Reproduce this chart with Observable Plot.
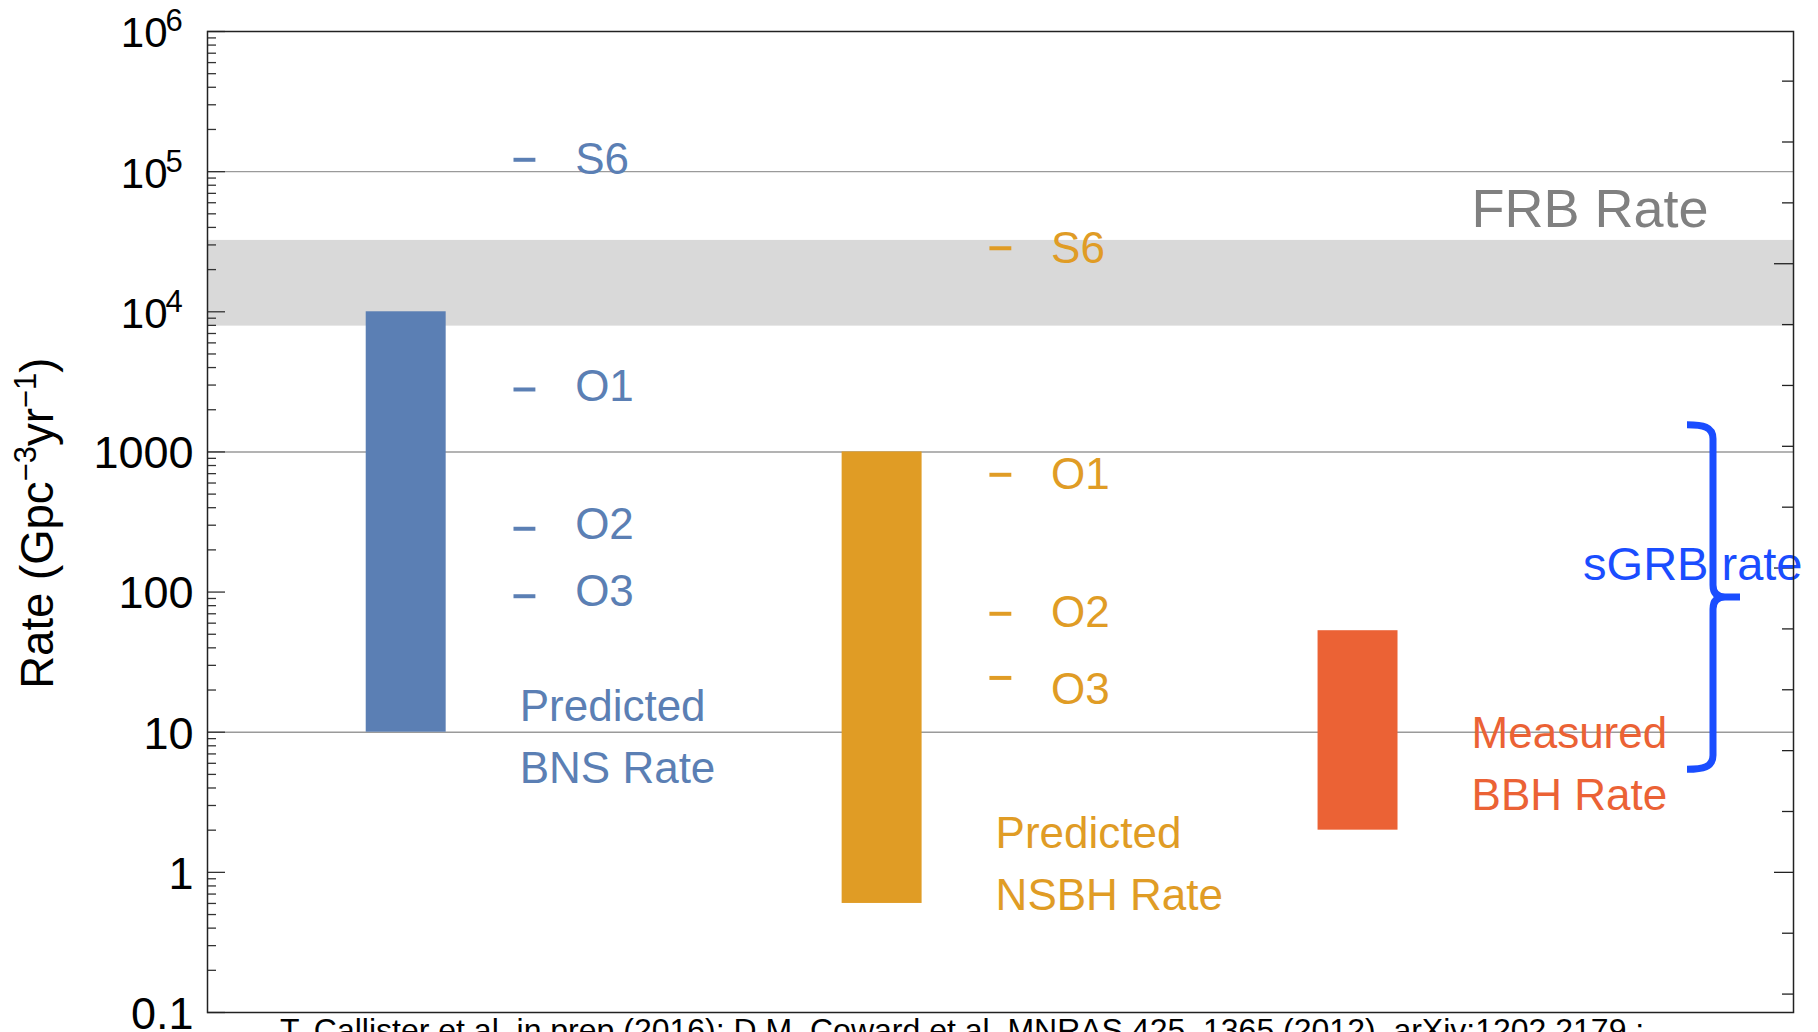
<!DOCTYPE html>
<html><head><meta charset="utf-8">
<script src="https://cdn.jsdelivr.net/npm/d3@7"></script>
<script src="https://cdn.jsdelivr.net/npm/@observablehq/plot@0.6"></script>
<style>
html,body{margin:0;padding:0;background:#fff;overflow:hidden;}
#chart{position:relative;width:1818px;height:1032px;}
#caption{position:absolute;left:280px;top:1014px;font-family:Arial,"Liberation Sans",sans-serif;font-size:32px;line-height:32px;color:#000;white-space:nowrap;}
</style></head><body>
<div id="chart"></div>
<script>
// ---------------- data ----------------
const categories = ["BNS", "NSBH", "BBH"];
const categoryPos = [1, 2, 3];
const rateLow = [10, 0.6, 2];
const rateHigh = [1e4, 1000, 53];
const categoryLabels = ["Predicted\nBNS Rate", "Predicted\nNSBH Rate", "Measured\nBBH Rate"];
const labelRate = [24.9, 3.1, 15.8];          // rate at which each label block is anchored
const runs = ["S6", "O1", "O2", "O3"];
const bnsRunRate = [1.215e5, 2790, 283, 93.4];
const nsbhRunRate = [2.84e4, 687, 70, 24.4];
const bnsRunLabelRate = [1.207e5, 2910, 302, 100];
const nsbhRunLabelRate = [2.81e4, 682, 71.3, 20.1];
const frbRateBand = [7900, 32300];
const sgrbRateRange = [5.4, 1550];
const gridRates = [10, 1000, 1e5];
const decadeTicks = [0.1, 1, 10, 100, 1000, 1e4, 1e5, 1e6];
const plainTickLabels = ["0.1", "1", "10", "100", "1000"];
const powerTickExponents = ["4", "5", "6"];
const naturalLogTicks = d3.range(-2, 14);     // right frame ticks at e^n
const yTitleRate = 310;                       // rate at which the rotated y title is centred
const citation = "T. Callister et al. in prep (2016); D.M. Coward et al. MNRAS 425, 1365 (2012), arXiv:1202.2179 ;";

// ---------------- styles ----------------
const colors = ["#5B7FB4", "#E09C25", "#EB6235"];
const FONT = "Arial, 'Liberation Sans', sans-serif";
const W = 1818, H = 1032, mL = 207, mR = 25, mT = 31, mB = 20;
const frameW = W - mL - mR;
const xDomain = [0.5825, 3.915];

// ---------------- derived tables ----------------
const bars = categories.map((c, i) => ({
  c, pos: categoryPos[i], lo: rateLow[i], hi: rateHigh[i],
  label: categoryLabels[i], at: labelRate[i], color: colors[i]
}));
const runMarks = runs.flatMap((r, j) => [
  {run: r, pos: categoryPos[0], rate: bnsRunRate[j], labelRate: bnsRunLabelRate[j], color: colors[0]},
  {run: r, pos: categoryPos[1], rate: nsbhRunRate[j], labelRate: nsbhRunLabelRate[j], color: colors[1]}
]);
const minorTicks = [];
for (let k = -1; k <= 5; ++k) for (let m = 2; m <= 9; ++m) minorTicks.push(+(m * Math.pow(10, k)).toPrecision(3));
const plainTicks = plainTickLabels.map((l, i) => ({v: decadeTicks[i], label: l}));
const powerTicks = powerTickExponents.map((e, i) => ({v: decadeTicks[plainTickLabels.length + i], exp: e}));
const lnMinor = naturalLogTicks.filter(n => n % 5 !== 0);
const lnMajor = naturalLogTicks.filter(n => n % 5 === 0);
const sgrbTip = Math.sqrt(sgrbRateRange[0] * sgrbRateRange[1]);

function braceMark(index, scales, values, dimensions) {
  const y = scales.y;
  const xr = dimensions.width - dimensions.marginRight;
  const top = y(sgrbRateRange[1]), bot = y(sgrbRateRange[0]), tip = y(sgrbTip);
  const xv = xr - 80;
  const d = `M${xv-26},${top} C${xv-10},${top} ${xv},${top+2} ${xv},${top+14} L${xv},${tip-12} ` +
            `C${xv},${tip-4} ${xv+4},${tip} ${xv+12},${tip} L${xv+27},${tip} ` +
            `M${xv+12},${tip} C${xv+4},${tip} ${xv},${tip+4} ${xv},${tip+12} L${xv},${bot-14} ` +
            `C${xv},${bot-2} ${xv-10},${bot} ${xv-26},${bot}`;
  const g = d3.create("svg:g");
  g.append("path").attr("d", d).attr("fill", "none").attr("stroke", "#1A4DFF")
    .attr("stroke-width", 7).attr("stroke-linejoin", "round");
  return g.node();
}

const svg = Plot.plot({
  width: W, height: H,
  marginLeft: mL, marginRight: mR, marginTop: mT, marginBottom: mB,
  x: {domain: xDomain, axis: null},
  y: {type: "log", domain: [0.1, 1e6], axis: null},
  color: {type: "identity"},
  style: `font-family: ${FONT}; background: white; overflow: visible;`,
  marks: [
    Plot.rect([frbRateBand], {x1: () => xDomain[0], x2: () => xDomain[1], y1: d => d[0], y2: d => d[1], fill: "#D9D9D9"}),
    Plot.ruleY(gridRates, {stroke: "#9A9A9A", strokeWidth: 1.4}),
    Plot.ruleY(minorTicks, {insetRight: frameW - 9, stroke: "#333", strokeWidth: 1.3}),
    Plot.ruleY(decadeTicks, {insetRight: frameW - 18, stroke: "#333", strokeWidth: 1.3}),
    Plot.ruleY(lnMinor, {y: n => Math.exp(n), insetLeft: frameW - 11, stroke: "#222", strokeWidth: 1.3}),
    Plot.ruleY(lnMajor, {y: n => Math.exp(n), insetLeft: frameW - 19, stroke: "#222", strokeWidth: 1.3}),
    Plot.rect(bars, {x1: d => d.pos - 0.084, x2: d => d.pos + 0.084, y1: "lo", y2: "hi", fill: "color"}),
    Plot.ruleY(runMarks, {y: "rate", x1: d => d.pos + 0.2265, x2: d => d.pos + 0.2725, stroke: "color", strokeWidth: 4}),
    Plot.text(runMarks, {x: d => d.pos + 0.355, y: "labelRate", text: "run", fill: "color", fontSize: 44, textAnchor: "start"}),
    Plot.text(bars, {x: d => d.pos + 0.2385, y: "at", text: "label", fill: "color", fontSize: 44, textAnchor: "start", lineAnchor: "top", lineHeight: 1.41}),
    Plot.text(["FRB Rate"], {text: d => d, y: () => frbRateBand[1], frameAnchor: "right", textAnchor: "end", lineAnchor: "bottom", dx: -85, dy: -13, fontSize: 54, fill: "#808080"}),
    braceMark,
    Plot.text(["sGRB rate"], {text: d => d, y: () => sgrbTip, frameAnchor: "right", textAnchor: "end", dx: 9, dy: -33, fontSize: 47, fill: "#1A4DFF"}),
    Plot.text(plainTicks, {y: "v", text: "label", frameAnchor: "left", textAnchor: "end", dx: -14, dy: 2, fontSize: 45, fill: "#000"}),
    Plot.text(powerTicks, {y: "v", text: () => "10", frameAnchor: "left", textAnchor: "end", dx: -40, dy: 2.5, fontSize: 42, fill: "#000"}),
    Plot.text(powerTicks, {y: "v", text: "exp", frameAnchor: "left", textAnchor: "start", dx: -42, dy: -10, fontSize: 31, fill: "#000"}),
    Plot.text(["Rate (Gpc-3yr-1)"], {text: d => d, y: () => yTitleRate, frameAnchor: "left", textAnchor: "middle", rotate: -90, dx: -169, fontSize: 45.5, fill: "#000"}),
    Plot.frame({stroke: "#222", strokeWidth: 1.5})
  ]
});

// superscripts in the y-axis title
for (const t of svg.querySelectorAll("text")) {
  if (t.textContent === "Rate (Gpc-3yr-1)") {
    t.textContent = "";
    const parts = [["Rate (Gpc", 45.5, 0], ["\u22123", 31, -17.5], ["yr", 45.5, 17.5], ["\u22121", 31, -17.5], [")", 45.5, 17.5]];
    for (const [s, fs, dy] of parts) {
      const sp = document.createElementNS("http://www.w3.org/2000/svg", "tspan");
      sp.setAttribute("font-size", fs);
      if (dy) sp.setAttribute("dy", dy);
      sp.textContent = s;
      t.appendChild(sp);
    }
  }
}

const chart = document.getElementById("chart");
chart.appendChild(svg);
const cap = document.createElement("div");
cap.id = "caption";
cap.textContent = citation;
chart.appendChild(cap);
</script>
</body></html>
